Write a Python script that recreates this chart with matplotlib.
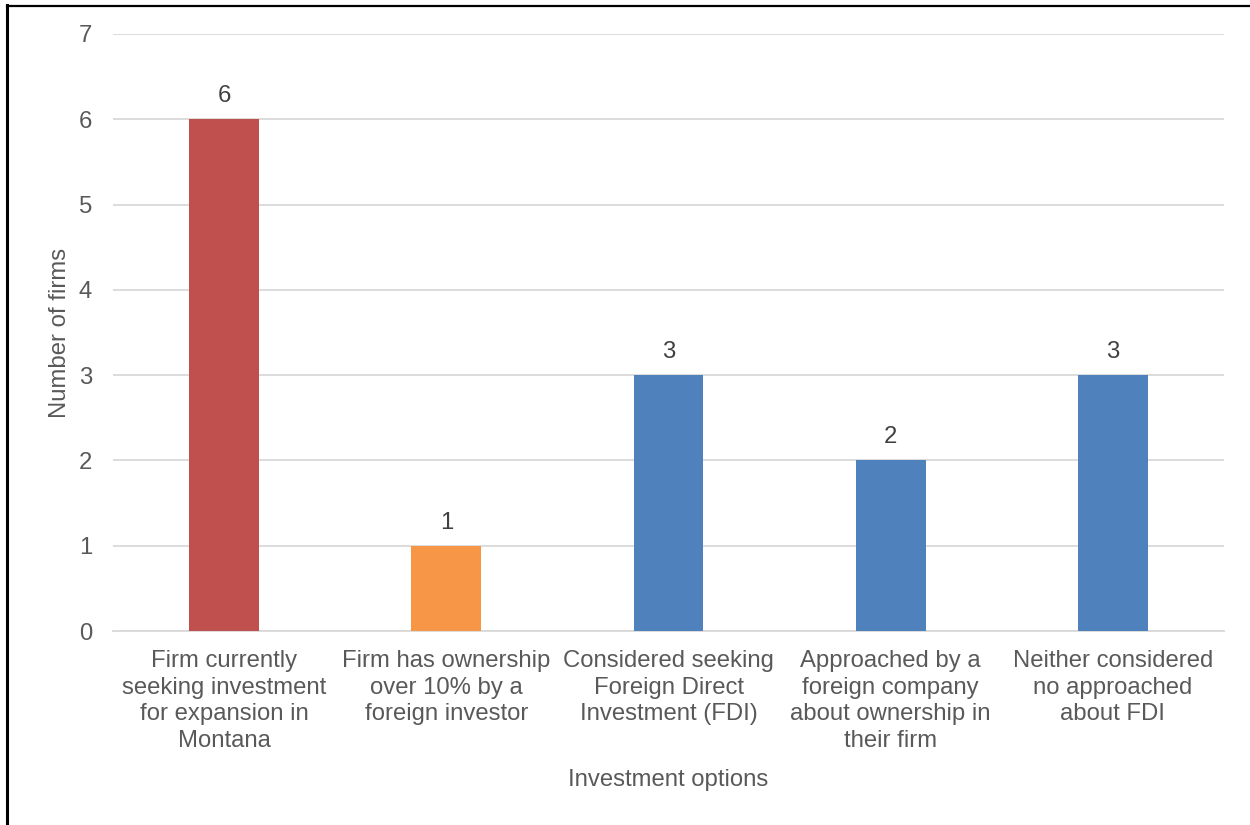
import numpy as np
import matplotlib.pyplot as plt
from matplotlib.lines import Line2D

plt.rcParams['font.family'] = ['Liberation Sans', 'DejaVu Sans']

# survey answers
categories = ['Firm currently\nseeking investment\nfor expansion in\nMontana',
              'Firm has ownership\nover 10% by a\nforeign investor',
              'Considered seeking\nForeign Direct\nInvestment (FDI)',
              'Approached by a\nforeign company\nabout ownership in\ntheir firm',
              'Neither considered\nno approached\nabout FDI']
firms = [6, 1, 3, 2, 3]
colors = ['#C0504D', '#F79646', '#4F81BD', '#4F81BD', '#4F81BD']

txt = '#595959'
fs = 17.2

fig = plt.figure(figsize=(12.5, 8.25), dpi=100)
ax = fig.add_axes([113/1250, 1 - 631/825, (1224-113)/1250, (631-34)/825])

x = np.arange(len(firms))
bars = ax.bar(x, firms, width=0.315, color=colors, zorder=3)
for b, v in zip(bars, firms):
    ax.text(b.get_x() + b.get_width()/2, v + 0.14, str(v), ha='center', va='bottom',
            fontsize=fs, color='#404040')

ax.set_xlim(-0.5, len(firms) - 0.5)
ax.set_ylim(0, 7)
ax.set_yticks(range(8))
ax.set_xticks(x)
ax.set_xticklabels(categories, fontsize=fs, color=txt, linespacing=1.26)
ax.tick_params(axis='y', labelsize=fs, labelcolor=txt, length=0, pad=15)
ax.tick_params(axis='x', length=0, pad=14)
ax.grid(axis='y', color='#D9D9D9', linewidth=1.3, zorder=0)
for s in ['top', 'right', 'left']:
    ax.spines[s].set_visible(False)
ax.spines['bottom'].set_color('#D9D9D9')
ax.spines['bottom'].set_linewidth(1.3)

ax.set_ylabel('Number of firms', fontsize=fs, color=txt, labelpad=5.5)
ax.set_xlabel('Investment options', fontsize=fs, color=txt, labelpad=12.5)

# frame lines on the left and top edge
fig.add_artist(Line2D([7/1250, 7/1250], [0, 1 - 5/825], color='black', linewidth=2.2))
fig.add_artist(Line2D([7/1250, 1], [1 - 5.5/825, 1 - 5.5/825], color='black', linewidth=1.6))

fig.savefig('out.png', dpi=100)
